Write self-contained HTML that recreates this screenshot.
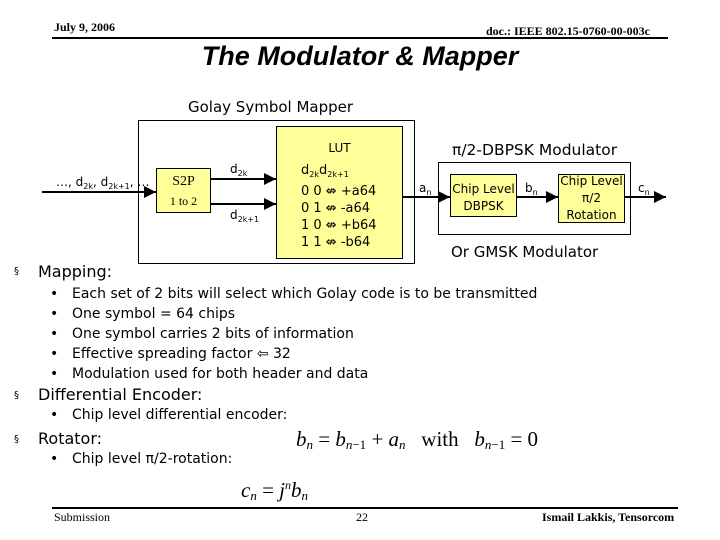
<!DOCTYPE html>
<html><head><meta charset="utf-8"><style>
body{margin:0;background:#fff}
#c{position:relative;width:720px;height:540px;overflow:hidden;font-family:"DejaVu Sans",sans-serif;color:#000}
.a{position:absolute;white-space:nowrap}
.s{font-family:"Liberation Serif",serif}
.bx{position:absolute;border:1px solid #000;box-sizing:border-box}
.y{background:#ffff99}
.t{font-size:14px}
sub{font-size:8px;vertical-align:-3px}
.m{font-family:"Liberation Serif",serif;font-style:italic;font-size:21px}
</style></head><body><div id="c">
<div class="a s" style="left:54px;top:20px;font-size:12px;font-weight:bold">July 9, 2006</div>
<div class="a s" style="left:486px;top:24px;font-size:12px;font-weight:bold">doc.: IEEE 802.15-0760-00-003c</div>
<div class="a" style="left:52px;top:37px;width:616px;height:2px;background:#000"></div>
<div class="a" style="left:0;width:720px;text-align:center;top:41px;font-family:'Liberation Sans',sans-serif;font-size:27px;font-weight:bold;font-style:italic">The Modulator &amp; Mapper</div>
<div class="a" style="left:188px;top:98px;font-size:15px">Golay Symbol Mapper</div>

<div class="bx" style="left:138px;top:120px;width:277px;height:144px"></div>
<div class="bx y" style="left:276px;top:126px;width:127px;height:133px"></div>
<div class="bx y" style="left:156px;top:168px;width:55px;height:45px"></div>
<div class="a s" style="left:156px;top:174px;width:55px;text-align:center;font-size:14px">S2P</div>
<div class="a s" style="left:156px;top:194px;width:55px;text-align:center;font-size:12px">1 to 2</div>
<div class="a" style="left:56px;top:175px;font-size:12px">…, d<sub>2k</sub>, d<sub>2k+1</sub>, …</div>
<div class="a" style="left:230px;top:162px;font-size:12px">d<sub>2k</sub></div>
<div class="a" style="left:230px;top:208px;font-size:12px">d<sub>2k+1</sub></div>
<div class="a" style="left:276px;top:141px;width:127px;text-align:center;font-size:12px">LUT</div>
<div class="a" style="left:301px;top:162px;font-size:13px;line-height:17px">d<sub>2k</sub>d<sub>2k+1</sub><br>0 0 ⇎ +a64<br>0 1 ⇎ -a64<br>1 0 ⇎ +b64<br>1 1 ⇎ -b64</div>

<div class="bx" style="left:438px;top:162px;width:193px;height:73px"></div>
<div class="bx y" style="left:450px;top:174px;width:67px;height:43px"></div>
<div class="bx y" style="left:558px;top:174px;width:67px;height:49px"></div>
<div class="a" style="left:450px;top:181px;width:67px;text-align:center;font-size:12px;line-height:17px">Chip Level<br>DBPSK</div>
<div class="a" style="left:558px;top:173px;width:67px;text-align:center;font-size:12px;line-height:17px">Chip Level<br>π/2<br>Rotation</div>
<div class="a" style="left:452px;top:141px;font-size:15.5px">π/2-DBPSK Modulator</div>
<div class="a" style="left:451px;top:243px;font-size:15px">Or GMSK Modulator</div>
<div class="a" style="left:419px;top:181px;font-size:12px">a<sub>n</sub></div>
<div class="a" style="left:525px;top:181px;font-size:12px">b<sub>n</sub></div>
<div class="a" style="left:638px;top:181px;font-size:12px">c<sub>n</sub></div>

<svg class="a" style="left:0;top:0" width="720" height="540">
<defs><marker id="ar" markerWidth="6" markerHeight="6" refX="6" refY="3" orient="auto"><path d="M0,0L6,3L0,6z"/></marker></defs>
<g stroke="#000" stroke-width="2" marker-end="url(#ar)">
<line x1="42" y1="192" x2="156" y2="192"/>
<line x1="211" y1="179" x2="276" y2="179"/>
<line x1="211" y1="204" x2="276" y2="204"/>
<line x1="403" y1="197" x2="450" y2="197"/>
<line x1="517" y1="197" x2="558" y2="197"/>
<line x1="625" y1="197" x2="666" y2="197"/>
</g></svg>

<div class="a" style="left:14px;top:266px;font-size:10px">§</div>
<div class="a" style="left:38px;top:262px;font-size:16px">Mapping:</div>
<div class="a t" style="left:50px;top:284px;line-height:20px">•<br>•<br>•<br>•<br>•</div>
<div class="a t" style="left:72px;top:284px;line-height:20px">Each set of 2 bits will select which Golay code is to be transmitted<br>One symbol = 64 chips<br>One symbol carries 2 bits of information<br>Effective spreading factor ⇦ 32<br>Modulation used for both header and data</div>
<div class="a" style="left:14px;top:390px;font-size:10px">§</div>
<div class="a" style="left:38px;top:385px;font-size:16px">Differential Encoder:</div>
<div class="a t" style="left:50px;top:407px">•</div>
<div class="a t" style="left:72px;top:407px">Chip level differential encoder:</div>
<div class="a" style="left:14px;top:434px;font-size:10px">§</div>
<div class="a" style="left:38px;top:429px;font-size:16px">Rotator:</div>
<div class="a t" style="left:50px;top:451px">•</div>
<div class="a t" style="left:72px;top:451px">Chip level π/2-rotation:</div>
<div class="a m" style="left:296px;top:427px">b<sub style="font-size:13px">n</sub> <span style="font-style:normal">=</span> b<sub style="font-size:13px">n<span style="font-style:normal">−1</span></sub> <span style="font-style:normal">+</span> a<sub style="font-size:13px">n</sub> &nbsp; <span style="font-style:normal">with</span> &nbsp; b<sub style="font-size:13px">n<span style="font-style:normal">−1</span></sub> <span style="font-style:normal">= 0</span></div>
<div class="a m" style="left:241px;top:478px">c<sub style="font-size:13px">n</sub> <span style="font-style:normal">=</span> j<sup style="font-size:12px">n</sup>b<sub style="font-size:13px">n</sub></div>

<div class="a" style="left:52px;top:507px;width:626px;height:2px;background:#000"></div>
<div class="a s" style="left:54px;top:510px;font-size:12px">Submission</div>
<div class="a s" style="left:356px;top:510px;font-size:12px">22</div>
<div class="a s" style="left:542px;top:510px;font-size:12px;font-weight:bold">Ismail Lakkis, Tensorcom</div>
</div></body></html>
